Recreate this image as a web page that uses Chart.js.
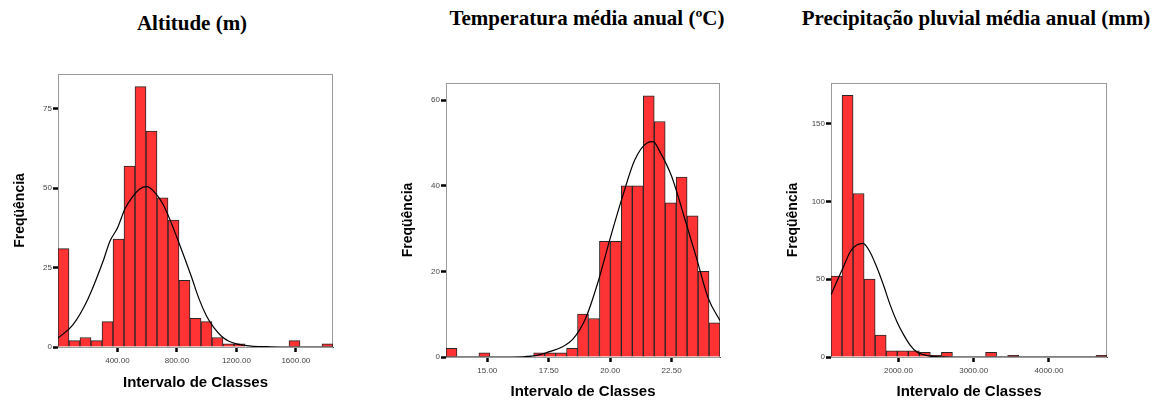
<!DOCTYPE html>
<html lang="pt">
<head>
<meta charset="utf-8">
<title>Histogramas - altitude, temperatura e precipitação</title>
<script src="https://cdn.jsdelivr.net/npm/chart.js@4.4.1/dist/chart.umd.min.js"></script>
<style>
  html, body { margin: 0; padding: 0; background: #fff; }
  #page { position: relative; width: 1160px; height: 401px; overflow: hidden; }
  .titulo {
    position: absolute;
    font: bold 21px/21px "Liberation Serif", "Times New Roman", serif;
    color: #000;
    white-space: nowrap;
    transform: translateX(-50%);
  }
  canvas { position: absolute; top: 0; }
</style>
</head>
<body>
<div id="page">
  <div class="titulo" style="left:192px; top:13px;">Altitude (m)</div>
  <div class="titulo" style="left:587px; top:8px;">Temperatura média anual (ºC)</div>
  <div class="titulo" style="left:976px; top:8px;">Precipitação pluvial média anual (mm)</div>
  <canvas id="altitudeChart" width="380" height="401" style="left:0px"></canvas>
  <canvas id="temperaturaChart" width="380" height="401" style="left:380px"></canvas>
  <canvas id="precipitacaoChart" width="400" height="401" style="left:760px"></canvas>
</div>
<script>
// Altitude (m)
const altitudeStart = 0;
const altitudeBinWidth = 74;
const altitudeCounts = [31, 2, 3, 2, 8, 34, 57, 82, 68, 47, 40, 21, 9, 8, 3, 1, 1, 0, 0, 0, 0, 2, 0, 0, 1];
const altitudeCurveX = [0, 100, 200, 300, 350, 400, 450, 500, 550, 600, 650, 700, 750, 800, 850, 900, 950, 1000, 1050, 1100, 1150, 1200, 1300, 1400, 1500, 1850];
const altitudeCurveY = [2.8, 7, 15, 26.6, 33.4, 37.5, 43.5, 47.2, 49.8, 50.5, 48.7, 45.5, 40.5, 34.5, 28.3, 21.8, 15, 9.7, 6, 3.4, 1.8, 1, 0.3, 0.1, 0, 0];
const altitudeXTicks = [400, 800, 1200, 1600];
const altitudeYTicks = [0, 25, 50, 75];

// Temperatura média anual (ºC)
const temperaturaStart = 13.32;
const temperaturaBinWidth = 0.446;
const temperaturaCounts = [2, 0, 0, 1, 0, 0, 0, 0, 1, 1, 1, 2, 10, 9, 27, 27, 40, 40, 61, 55, 36, 42, 33, 20, 8];
const temperaturaCurveX = [13.32, 16, 16.8, 17.2, 17.5, 18, 18.5, 19, 19.5, 20, 20.5, 21, 21.5, 21.75, 22, 22.5, 23, 23.5, 24, 24.47];
const temperaturaCurveY = [0, 0, 0.2, 0.6, 1.2, 2.2, 4.3, 9, 17.4, 27.7, 37.4, 46, 50, 50.3, 48.2, 42.2, 33, 23.4, 13.6, 8.5];
const temperaturaXTicks = [15, 17.5, 20, 22.5];
const temperaturaYTicks = [0, 20, 40, 60];

// Precipitação pluvial média anual (mm)
const precipitacaoStart = 1104;
const precipitacaoBinWidth = 146.7;
const precipitacaoCounts = [52, 168, 105, 50, 14, 4, 4, 4, 3, 1, 3, 0, 0, 0, 3, 0, 1, 0, 0, 0, 0, 0, 0, 0, 1];
const precipitacaoCurveX = [1104, 1180, 1270, 1360, 1445, 1530, 1620, 1710, 1800, 1890, 1980, 2070, 2155, 2245, 2330, 2420, 2600, 2800, 4772];
const precipitacaoCurveY = [40, 48.3, 58, 67.6, 71.9, 73, 67.6, 58, 46.4, 33.5, 22.7, 14.2, 7.7, 3.2, 1.5, 0.6, 0.1, 0, 0];
const precipitacaoXTicks = [2000, 3000, 4000];
const precipitacaoYTicks = [0, 50, 100, 150];

Chart.defaults.font.family = '"Liberation Sans", Arial, sans-serif';

// moldura cinza em volta da área do gráfico
const frameBox = {
    id: 'frameBox',
    beforeDatasetsDraw(chart) {
        const { ctx, chartArea: a } = chart;
        ctx.save();
        ctx.strokeStyle = '#9a9a9a';
        ctx.lineWidth = 1;
        ctx.strokeRect(a.left + 0.5, a.top + 0.5, a.right - a.left - 1, a.bottom - a.top);
        ctx.restore();
    }
};

function createHistogram(canvasId, h) {
    const ctx = document.getElementById(canvasId);
    if (!ctx) return;
    const bars = h.counts.map((c, i) => ({ x: h.start + (i + 0.5) * h.binWidth, y: c }));
    const curve = h.curveX.map((x, i) => ({ x: x, y: h.curveY[i] }));
    new Chart(ctx, {
        type: 'bar',
        data: {
            datasets: [{
                type: 'line',
                label: 'Curva normal',
                data: curve,
                borderColor: '#000',
                borderWidth: 1.2,
                pointRadius: 0,
                cubicInterpolationMode: 'monotone',
                order: 0
            }, {
                type: 'bar',
                label: 'Freqüência',
                data: bars,
                backgroundColor: '#ff3333',
                borderColor: '#262626',
                borderWidth: 1,
                barPercentage: 1,
                categoryPercentage: 1,
                order: 1
            }]
        },
        options: {
            responsive: false,
            animation: false,
            layout: { padding: h.padding },
            plugins: {
                legend: { display: false },
                tooltip: { enabled: false }
            },
            scales: {
                x: {
                    type: 'linear',
                    min: h.start,
                    max: h.start + h.counts.length * h.binWidth,
                    offset: false,
                    afterBuildTicks: s => { s.ticks = h.xTicks.map(v => ({ value: v })); },
                    afterFit: s => { s.height = h.xAxisHeight; },
                    grid: { display: true, offset: false, drawOnChartArea: false, tickLength: 5, tickWidth: 2.5, tickColor: '#000' },
                    border: { color: '#444', width: 1 },
                    ticks: {
                        padding: 4,
                        maxRotation: 0,
                        autoSkip: false,
                        color: '#444',
                        font: { size: 8 },
                        callback: v => Number(v).toFixed(2)
                    },
                    title: {
                        display: true,
                        text: 'Intervalo de Classes',
                        color: '#000',
                        font: { size: 15, weight: 'bold' },
                        padding: 0
                    }
                },
                y: {
                    min: 0,
                    max: h.yMax,
                    afterBuildTicks: s => { s.ticks = h.yTicks.map(v => ({ value: v })); },
                    afterFit: s => { s.width = h.yAxisWidth; },
                    grid: { display: true, drawOnChartArea: false, tickLength: 5, tickWidth: 2.5, tickColor: '#000' },
                    border: { color: '#9a9a9a', width: 1 },
                    ticks: { padding: 1, color: '#444', font: { size: 8 } },
                    title: {
                        display: true,
                        text: 'Freqüência',
                        color: '#000',
                        font: { size: 14, weight: 'bold' },
                        padding: { top: h.yTitlePad, bottom: 0 }
                    }
                }
            }
        },
        plugins: [frameBox]
    });
}

document.addEventListener('DOMContentLoaded', () => {
    createHistogram('altitudeChart', {
        start: altitudeStart, binWidth: altitudeBinWidth, counts: altitudeCounts,
        curveX: altitudeCurveX, curveY: altitudeCurveY,
        xTicks: altitudeXTicks, yTicks: altitudeYTicks, yMax: 86,
        padding: { left: 0, right: 47, top: 74, bottom: 9 },
        yAxisWidth: 58, xAxisHeight: 45, yTitlePad: 11.6
    });
    createHistogram('temperaturaChart', {
        start: temperaturaStart, binWidth: temperaturaBinWidth, counts: temperaturaCounts,
        curveX: temperaturaCurveX, curveY: temperaturaCurveY,
        xTicks: temperaturaXTicks, yTicks: temperaturaYTicks, yMax: 64,
        padding: { left: 0, right: 40, top: 83, bottom: 0 },
        yAxisWidth: 66, xAxisHeight: 44, yTitlePad: 19.6
    });
    createHistogram('precipitacaoChart', {
        start: precipitacaoStart, binWidth: precipitacaoBinWidth, counts: precipitacaoCounts,
        curveX: precipitacaoCurveX, curveY: precipitacaoCurveY,
        xTicks: precipitacaoXTicks, yTicks: precipitacaoYTicks, yMax: 176,
        padding: { left: 0, right: 53, top: 83, bottom: 0 },
        yAxisWidth: 71, xAxisHeight: 44, yTitlePad: 24.6
    });
});
</script>
</body>
</html>
